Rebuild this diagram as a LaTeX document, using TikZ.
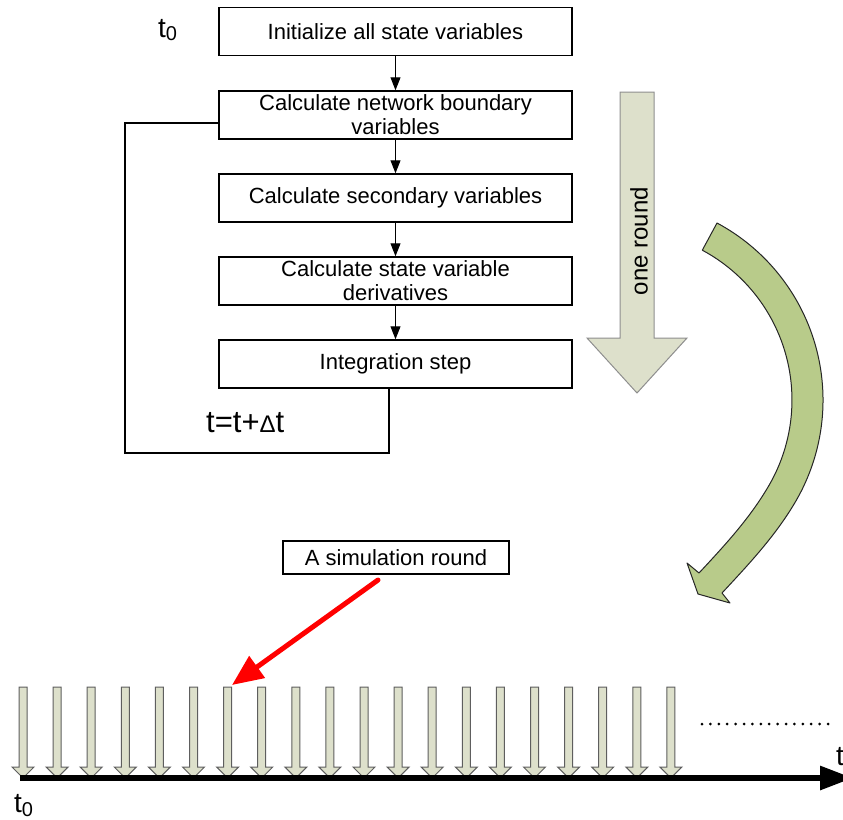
\documentclass[tikz,border=0pt]{standalone}
\usepackage{fontspec}
\setmainfont{Liberation Sans}
\usetikzlibrary{arrows.meta}

\definecolor{paleolive}{HTML}{DDE0CB}
\definecolor{leafgreen}{HTML}{B8CB8A}
\definecolor{shadegray}{HTML}{5E5E5E}
\definecolor{alertred}{HTML}{FF0000}

\begin{document}
\begin{tikzpicture}[x=1pt,y=-1pt,
  stepbox/.style={draw, line width=1.5pt, minimum width=353pt, minimum height=48pt,
    inner sep=0pt, align=center, font=\fontsize{22}{24}\selectfont},
  labelbox/.style={draw, line width=1.5pt, minimum width=226pt, minimum height=33pt,
    inner sep=0pt, font=\fontsize{22}{24}\selectfont},
  flow/.style={-{Triangle[length=13pt,width=10pt]}, line width=1pt},
  loopline/.style={line width=1.5pt},
  timelabel/.style={anchor=base west, inner sep=0pt, font=\fontsize{28}{28}\selectfont},
  bigarrow/.style={draw=shadegray!70, line width=1pt, fill=paleolive, line join=miter},
  tickarrow/.style={draw=shadegray, line width=1pt, fill=paleolive},
  leafarrow/.style={draw=black!85, line width=1pt, fill=leafgreen, line join=round},
  timeline/.style={line width=6pt, -{Triangle[length=33pt,width=23pt]}},
  pointer/.style={draw=alertred, line width=5pt, line cap=round,
    -{Triangle[length=31pt,width=26pt]}},
  dotrow/.style={line width=3pt, line cap=round, dash pattern=on 0pt off 8.4pt}
]
\useasboundingbox (0,0) rectangle (843,819);

% flowchart of one simulation round
\node[stepbox] (b1) at (395.5,31.5) {Initialize all state variables};
\node[stepbox] (b2) at (395.5,115) {Calculate network boundary\\variables};
\node[stepbox] (b3) at (395.5,198) {Calculate secondary variables};
\node[stepbox] (b4) at (395.5,281) {Calculate state variable\\derivatives};
\node[stepbox] (b5) at (395.5,364) {Integration step};

\draw[flow] (b1) -- (b2);
\draw[flow] (b2) -- (b3);
\draw[flow] (b3) -- (b4);
\draw[flow] (b4) -- (b5);

% feedback loop back to the boundary variables
\draw[loopline] ([yshift=-8pt]b2.west) -| (125,453) -| ([xshift=-6.5pt]b5.south);

\node[timelabel] (t0top) at (158,37) {t\raisebox{-3pt}{\fontsize{20}{20}\selectfont 0}};
\node[anchor=base west, inner sep=0pt, font=\fontsize{31}{31}\selectfont] (tinc) at (206,432)
  {t=t+{\fontsize{24}{24}\selectfont Δ}t};

% block arrow "one round"
\draw[bigarrow] (620,92) -- (654,92) -- (654,338) -- (687,338) -- (637,393)
  -- (587,338) -- (620,338) -- cycle;
\node[rotate=90, inner sep=0pt, font=\fontsize{24}{24}\selectfont] (oneround) at (639,241) {one round};

% curved block arrow towards the time axis
\draw[leafarrow] (717,223) arc[start angle=-61.8, end angle=30, radius=201]
  .. controls (776.1,535.1) and (749.2,563.8) .. (722,593)
  -- (730,603) -- (698,594) -- (687,563) -- (699,573)
  .. controls (724.8,545.3) and (750.2,517.9) .. (769.2,485)
  arc[start angle=30, end angle=-61.8, radius=170] -- cycle;

% label and pointer to one round on the time axis
\node[labelbox] (sim) at (396,557.5) {A simulation round};
\coordinate (pointerstart) at (378,580);
\coordinate (roundseven) at (232,685);
\draw[pointer] (pointerstart) -- (roundseven);

% rounds along the time axis
\foreach \i in {0,...,19} {
  \pgfmathsetmacro\cx{23+34.1*\i}
  \draw[tickarrow] (\cx-4,687) -- (\cx+4,687) -- (\cx+4,767) -- (\cx+11,767)
    -- (\cx,778) -- (\cx-11,767) -- (\cx-4,767) -- cycle;
}

\coordinate (axisstart) at (20,778);
\coordinate (axisend) at (853,778);
\draw[timeline] (axisstart) -- (axisend);

\coordinate (dotsstart) at (702,724);
\coordinate (dotsend) at (830,724);
\draw[dotrow] (dotsstart) -- (dotsend);

\node[timelabel] (t0bot) at (14,812) {t\raisebox{-4pt}{\fontsize{20}{20}\selectfont 0}};
\node[timelabel] (taxis) at (836,765) {t};
\end{tikzpicture}
\end{document}
